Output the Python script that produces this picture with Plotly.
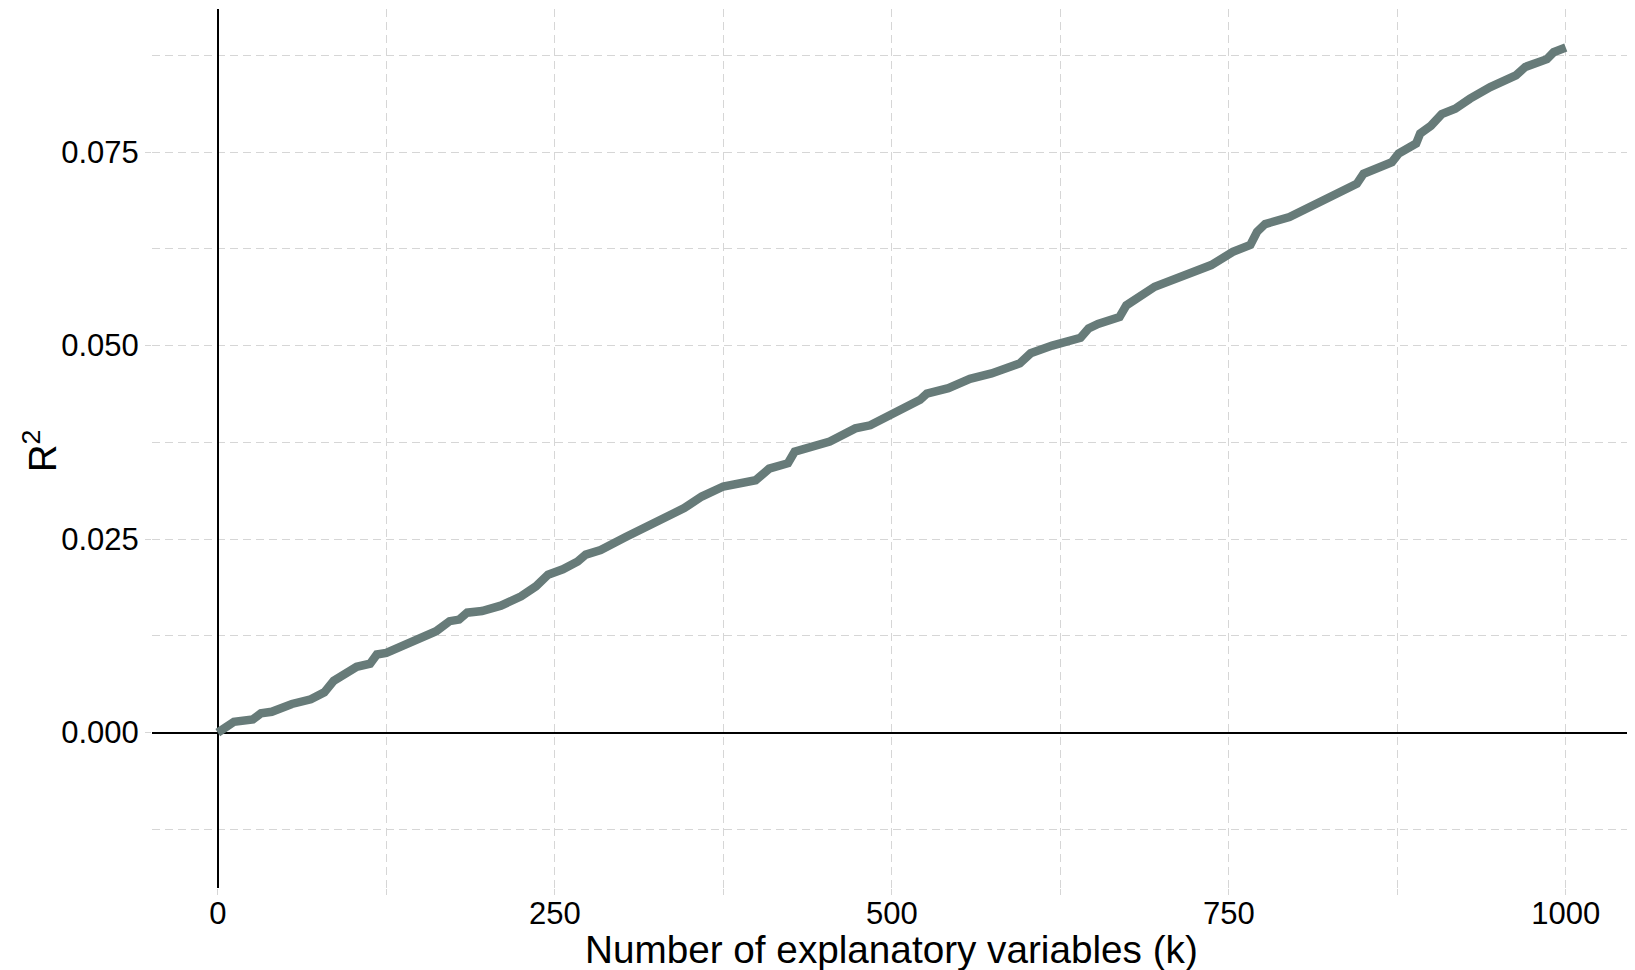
import plotly.graph_objects as go

# Number of explanatory variables (k)
k_vals = [0, 3, 12, 26, 32, 40, 55, 69, 79, 86, 94, 103, 113, 118, 125, 137, 151, 162,
          172, 179, 185, 196, 210, 225, 236, 245, 256, 267, 273, 284, 303, 332, 346, 359,
          375, 399, 409, 423, 428, 454, 473, 484, 500, 521, 526, 542, 558, 574, 595, 603,
          619, 640, 646, 653, 669, 674, 695, 716, 737, 753, 766, 771, 777, 795, 811, 824,
          845, 850, 871, 876, 889, 892, 900, 908, 918, 929, 944, 963, 970, 986, 991, 1000]

# R-squared
r2_vals = [0.0000, 0.0004, 0.0014, 0.0017, 0.0025, 0.0027, 0.0037, 0.0043, 0.0052, 0.0067,
           0.0077, 0.0085, 0.0089, 0.0101, 0.0103, 0.0113, 0.0122, 0.0131, 0.0144, 0.0146,
           0.0155, 0.0157, 0.0164, 0.0176, 0.0189, 0.0204, 0.0211, 0.0221, 0.0230, 0.0236,
           0.0253, 0.0277, 0.0290, 0.0305, 0.0318, 0.0326, 0.0341, 0.0348, 0.0363, 0.0376,
           0.0393, 0.0397, 0.0410, 0.0430, 0.0438, 0.0445, 0.0457, 0.0464, 0.0477, 0.0490,
           0.0500, 0.0510, 0.0522, 0.0528, 0.0537, 0.0552, 0.0576, 0.0589, 0.0604, 0.0621,
           0.0630, 0.0647, 0.0657, 0.0666, 0.0679, 0.0692, 0.0709, 0.0722, 0.0737, 0.0748,
           0.0761, 0.0774, 0.0784, 0.0799, 0.0806, 0.0819, 0.0834, 0.0849, 0.0860, 0.0870,
           0.0879, 0.0885]

x_ticks = [0, 250, 500, 750, 1000]
x_ticklabels = ["0", "250", "500", "750", "1000"]
y_ticks = [0.000, 0.025, 0.050, 0.075]
y_ticklabels = ["0.000", "0.025", "0.050", "0.075"]

x_title = "Number of explanatory variables (k)"
y_title = "R<sup>2</sup>"

FONT = "Liberation Sans, Arial, Helvetica, sans-serif"
GRID = "#d6d6d6"
DASH = "8px,5px"

# page body has an 8px margin, so the figure is sized to fit the 1635x970 window
W, H = 1627, 962
ML, MR, MT, MB = 144, 4, 1, 82
PW, PH = W - ML - MR, H - MT - MB

fig = go.Figure()
fig.add_trace(go.Scatter(
    x=k_vals, y=r2_vals, mode="lines",
    line=dict(color="#677b79", width=8.5),
    showlegend=False,
))

fig.update_layout(
    width=W, height=H,
    margin=dict(l=ML, r=MR, t=MT, b=MB, autoexpand=False),
    paper_bgcolor="white", plot_bgcolor="white",
    font=dict(family=FONT, color="black"),
)

fig.update_xaxes(
    range=[-48.8, 1048.4], automargin=False,
    tickmode="array", tickvals=x_ticks, ticktext=x_ticklabels,
    tickfont=dict(size=31, family=FONT, color="black"),
    ticks="outside", ticklen=6, tickcolor=GRID, tickwidth=1.3,
    ticklabelstandoff=-8,
    showgrid=True, gridcolor=GRID, gridwidth=1.3, griddash=DASH,
    minor=dict(dtick=125, tick0=0, showgrid=True, gridcolor=GRID, gridwidth=1.3,
               griddash=DASH, ticks="outside", ticklen=6, tickcolor=GRID, tickwidth=1.3),
    zeroline=True, zerolinecolor="black", zerolinewidth=2,
    showline=False,
)

fig.update_yaxes(
    range=[-0.02007, 0.09348], automargin=False,
    tickmode="array", tickvals=y_ticks, ticktext=y_ticklabels,
    tickfont=dict(size=31, family=FONT, color="black"),
    ticks="outside", ticklen=6, tickcolor=GRID, tickwidth=1.3,
    ticklabelstandoff=0,
    showgrid=True, gridcolor=GRID, gridwidth=1.3, griddash=DASH,
    minor=dict(dtick=0.0125, tick0=0, showgrid=True, gridcolor=GRID, gridwidth=1.3,
               griddash=DASH),
    zeroline=True, zerolinecolor="black", zerolinewidth=2,
    showline=False,
)

# axis titles as annotations for exact placement
fig.add_annotation(
    text=x_title, xref="paper", yref="paper",
    x=(883 - ML) / PW, y=(H - MB - 941) / PH,
    xanchor="center", yanchor="middle", showarrow=False,
    font=dict(size=38.7, family=FONT, color="black"),
)
fig.add_annotation(
    text=y_title, xref="paper", yref="paper",
    x=(32 - ML) / PW, y=(H - MB - 443) / PH,
    xanchor="center", yanchor="middle", showarrow=False, textangle=-90,
    font=dict(size=38, family=FONT, color="black"),
)

fig.write_html("out.html")
